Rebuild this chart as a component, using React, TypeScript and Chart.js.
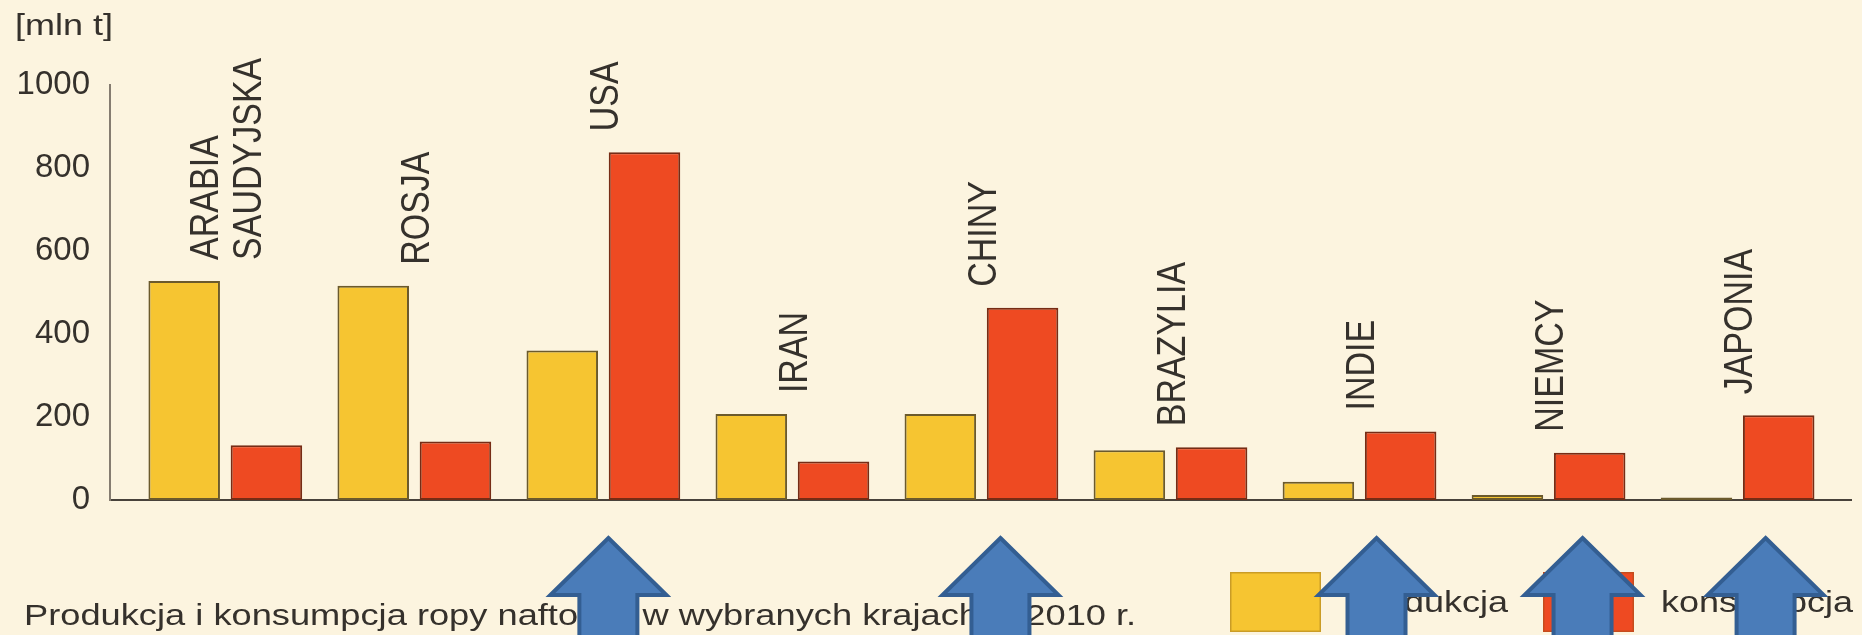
import { useEffect, useRef } from 'react';
import { Chart, registerables } from 'chart.js';

Chart.register(...registerables);

// Countries (multi-line names are split into lines)
const countries: string[][] = [
  ['ARABIA', 'SAUDYJSKA'],
  ['ROSJA'],
  ['USA'],
  ['IRAN'],
  ['CHINY'],
  ['BRAZYLIA'],
  ['INDIE'],
  ['NIEMCY'],
  ['JAPONIA'],
];

// Oil production and consumption, million tonnes
const production = [528, 516, 360, 207, 207, 120, 44, 12, 6];
const consumption = [132, 141, 838, 93, 463, 127, 165, 114, 204];

const seriesNames = ['produkcja', 'konsumpcja'];
const yTicks = [0, 200, 400, 600, 800, 1000];
const unitLabel = '[mln t]';
const caption = 'Produkcja i konsumpcja ropy naftowej w wybranych krajach w 2010 r.';

// Countries whose consumption exceeds production get an arrow marker
const arrowCountries = ['USA', 'CHINY', 'INDIE', 'NIEMCY', 'JAPONIA'];
const arrowNudge = [5, 19, 17, 34, 28];

const FONT = '"Liberation Sans", Arial, Helvetica, sans-serif';
const BG = '#fcf4df';
const TEXT = '#35312c';
const YELLOW = '#f6c531';
const RED = '#ee4a22';
// the lettering is set slightly wide
const WIDE = 1.2;

const backgroundPlugin = {
  id: 'paperBackground',
  beforeDraw(chart: any) {
    const { ctx, width, height } = chart;
    ctx.save();
    ctx.fillStyle = BG;
    ctx.fillRect(0, 0, width, height);
    ctx.restore();
  },
};

const countryLabelPlugin = {
  id: 'countryLabels',
  afterDatasetsDraw(chart: any) {
    const { ctx } = chart;
    const xs = chart.scales.x;
    const ys = chart.scales.y;
    const size = 34;
    const lineH = 43 / WIDE;
    const cap = size * 0.716;
    ctx.save();
    ctx.font = `${size}px ${FONT}`;
    ctx.fillStyle = TEXT;
    ctx.textAlign = 'left';
    ctx.textBaseline = 'alphabetic';
    countries.forEach((lines, i) => {
      const top = ys.getPixelForValue(Math.max(production[i], consumption[i]));
      const cx = xs.getPixelForValue(i);
      ctx.save();
      ctx.translate(cx, top - 21);
      ctx.scale(WIDE, 1);
      ctx.rotate(-Math.PI / 2);
      lines.forEach((ln, j) => {
        const off = (j - (lines.length - 1) / 2) * lineH;
        ctx.fillText(ln, 0, off + cap / 2);
      });
      ctx.restore();
    });
    ctx.restore();
  },
};

function wideText(ctx: any, text: string, x: number, y: number, sx = WIDE) {
  ctx.save();
  ctx.translate(x, y);
  ctx.scale(sx, 1);
  ctx.fillText(text, 0, 0);
  ctx.restore();
}

const footerPlugin = {
  id: 'footerAndLegend',
  afterDraw(chart: any) {
    const { ctx } = chart;
    ctx.save();
    ctx.fillStyle = TEXT;
    ctx.textBaseline = 'alphabetic';
    ctx.textAlign = 'left';

    // unit above the value axis
    ctx.font = `30px ${FONT}`;
    wideText(ctx, unitLabel, 15, 35);

    // caption
    ctx.font = `29px ${FONT}`;
    wideText(ctx, caption, 24, 625, 1.25);

    // legend
    const items = chart.data.datasets.map((ds: any) => ({
      label: ds.label,
      color: ds.backgroundColor,
    }));
    const boxX = [1230, 1543];
    const textX = [1352, 1661];
    ctx.font = `30px ${FONT}`;
    items.forEach((it: any, i: number) => {
      ctx.fillStyle = it.color;
      ctx.fillRect(boxX[i], 572, 91, 60);
      ctx.strokeStyle = 'rgba(120, 80, 20, 0.35)';
      ctx.lineWidth = 1.5;
      ctx.strokeRect(boxX[i] + 0.75, 572.75, 89.5, 58.5);
      ctx.fillStyle = TEXT;
      wideText(ctx, it.label, textX[i], 612);
    });
    ctx.restore();
  },
};

const arrowPlugin = {
  id: 'arrowMarkers',
  afterDraw(chart: any) {
    const { ctx } = chart;
    const xs = chart.scales.x;
    const tipY = 538;
    const headY = 595;
    const headHalf = 58;
    const shaftHalf = 29;
    const bottom = 645;
    ctx.save();
    ctx.fillStyle = '#4a7cb9';
    ctx.strokeStyle = '#335e92';
    ctx.lineWidth = 4;
    ctx.lineJoin = 'miter';
    arrowCountries.forEach((name, k) => {
      const idx = countries.findIndex((c) => c.join(' ') === name);
      if (idx < 0) return;
      const cx = xs.getPixelForValue(idx) + arrowNudge[k];
      ctx.beginPath();
      ctx.moveTo(cx, tipY);
      ctx.lineTo(cx + headHalf, headY);
      ctx.lineTo(cx + shaftHalf, headY);
      ctx.lineTo(cx + shaftHalf, bottom);
      ctx.lineTo(cx - shaftHalf, bottom);
      ctx.lineTo(cx - shaftHalf, headY);
      ctx.lineTo(cx - headHalf, headY);
      ctx.closePath();
      ctx.fill();
      ctx.stroke();
    });
    ctx.restore();
  },
};

export default function App() {
  const canvasRef = useRef<HTMLCanvasElement | null>(null);

  useEffect(() => {
    const canvas = canvasRef.current;
    if (!canvas) return;

    const chart = new Chart(canvas, {
      type: 'bar',
      data: {
        datasets: [
          {
            label: seriesNames[0],
            data: production.map((v, i) => ({ x: i, y: v })),
            backgroundColor: YELLOW,
            borderColor: '#6b5a2c',
            borderWidth: 2,
            borderSkipped: false,
            categoryPercentage: 0.87,
            barPercentage: 0.87,
          },
          {
            label: seriesNames[1],
            data: consumption.map((v, i) => ({ x: i, y: v })),
            backgroundColor: RED,
            borderColor: '#762c15',
            borderWidth: 2,
            borderSkipped: false,
            categoryPercentage: 0.87,
            barPercentage: 0.87,
          },
        ],
      },
      options: {
        responsive: false,
        animation: false,
        layout: { padding: { top: 85, right: 11, left: 0, bottom: 0 } },
        plugins: {
          legend: { display: false },
          title: { display: false },
          tooltip: { enabled: false },
        },
        scales: {
          x: {
            type: 'linear',
            offset: false,
            min: -0.61,
            max: 8.6,
            afterBuildTicks: (scale: any) => {
              scale.ticks = countries.map((_, i) => ({ value: i }));
            },
            ticks: { display: false },
            grid: { display: false, drawTicks: false, offset: false },
            border: { display: true, color: '#48423b', width: 2 },
            afterFit: (scale: any) => {
              scale.height = 135;
            },
          },
          y: {
            min: 0,
            max: 1000,
            afterBuildTicks: (scale: any) => {
              scale.ticks = yTicks.map((v) => ({ value: v }));
            },
            ticks: {
              color: TEXT,
              padding: 20,
              font: { family: FONT, size: 33 },
              callback: (v: any) => String(v),
            },
            grid: { display: false, drawTicks: false },
            border: { display: true, color: '#857c70', width: 2 },
            afterFit: (scale: any) => {
              scale.width = 110;
            },
          },
        },
      } as any,
      plugins: [backgroundPlugin, countryLabelPlugin, footerPlugin, arrowPlugin],
    });

    return () => chart.destroy();
  }, []);

  return (
    <div style={{ position: 'fixed', left: 0, top: 0, width: 1862, height: 635, background: BG }}>
      <canvas ref={canvasRef} width={1862} height={635} style={{ display: 'block' }} />
    </div>
  );
}
